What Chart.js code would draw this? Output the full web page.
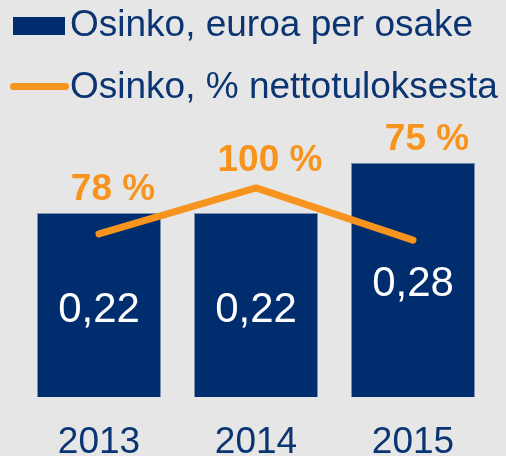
<!DOCTYPE html>
<html>
<head>
<meta charset="utf-8">
<script src="https://cdn.jsdelivr.net/npm/chart.js@4.4.1/dist/chart.umd.min.js"></script>
<style>
  html, body { margin: 0; padding: 0; background: #e6e6e6; width: 506px; height: 456px; overflow: hidden; }
  #wrap { position: relative; width: 506px; height: 456px; }
  #myChart { position: absolute; left: 0; top: 0; }
  .leg { position: absolute; left: 70px; font-family: "Liberation Sans", Arial, sans-serif; font-size: 37px; line-height: 44px; color: #0b3572; white-space: nowrap; }
  .box { position: absolute; }
</style>
</head>
<body>
<div id="wrap">
  <canvas id="myChart" width="506" height="489"></canvas>
  <div class="box" id="legBar" style="left:13px;top:17px;width:52px;height:18px;"></div>
  <div class="leg" id="legBarText" style="top:2px;"></div>
  <div class="box" id="legLine" style="left:10px;top:83px;width:59px;height:7px;border-radius:4px;"></div>
  <div class="leg" id="legLineText" style="top:64px;"></div>
</div>
<script>
var years = ['2013', '2014', '2015'];
var dividendPerShare = [0.22, 0.22, 0.28];
var payoutRatio = [78, 100, 75];
var barLabel = 'Osinko, euroa per osake';
var lineLabel = 'Osinko, % nettotuloksesta';

var navy = '#002d6e';
var orange = '#f7941e';

document.getElementById('legBar').style.background = navy;
document.getElementById('legLine').style.background = orange;
document.getElementById('legBarText').textContent = barLabel;
document.getElementById('legLineText').textContent = lineLabel;

// values written on the bars and above the line
var valueLabels = {
  id: 'valueLabels',
  afterDatasetsDraw: function(chart) {
    var ctx = chart.ctx;
    var pts = chart.getDatasetMeta(0).data;
    var bars = chart.getDatasetMeta(1).data;
    ctx.save();
    ctx.textAlign = 'center';
    ctx.textBaseline = 'alphabetic';

    ctx.fillStyle = '#ffffff';
    ctx.font = '42px "Liberation Sans", Arial, sans-serif';
    bars.forEach(function(bar, i) {
      var mid = (bar.y + bar.base) / 2;
      ctx.fillText(dividendPerShare[i].toFixed(2).replace('.', ','), bar.x, mid + 16.5);
    });

    ctx.fillStyle = orange;
    ctx.font = 'bold 37px "Liberation Sans", Arial, sans-serif';
    pts.forEach(function(pt, i) {
      var top = Math.min(bars[i].y, pt.y - 4);
      ctx.fillText(payoutRatio[i] + ' %', pt.x + 14, top - 13);
    });
    ctx.restore();
  }
};

var ctx = document.getElementById('myChart').getContext('2d');
var chart = new Chart(ctx, {
  type: 'bar',
  data: {
    labels: years,
    datasets: [{
      type: 'line',
      label: lineLabel,
      data: payoutRatio,
      yAxisID: 'y2',
      borderColor: orange,
      borderWidth: 7,
      borderCapStyle: 'round',
      borderJoinStyle: 'round',
      pointRadius: 0,
      tension: 0,
      order: 0
    }, {
      label: barLabel,
      data: dividendPerShare,
      yAxisID: 'y',
      backgroundColor: navy,
      borderColor: '#8092b3',
      borderWidth: 1,
      categoryPercentage: 1,
      barPercentage: 0.79,
      order: 1
    }]
  },
  options: {
    responsive: false,
    animation: false,
    devicePixelRatio: 1,
    layout: { padding: { left: 20.5, right: 14.5, top: 121, bottom: 0 } },
    plugins: { legend: { display: false }, tooltip: { enabled: false } },
    scales: {
      x: {
        grid: { display: false, drawTicks: false },
        border: { display: false },
        ticks: {
          color: '#0b3572',
          padding: 23.8,
          font: { family: '"Liberation Sans", Arial, sans-serif', size: 37 }
        }
      },
      y: { display: false, min: 0, max: 0.33 },
      y2: { display: false, min: 0, max: 132 }
    }
  },
  plugins: [valueLabels]
});
</script>
</body>
</html>
